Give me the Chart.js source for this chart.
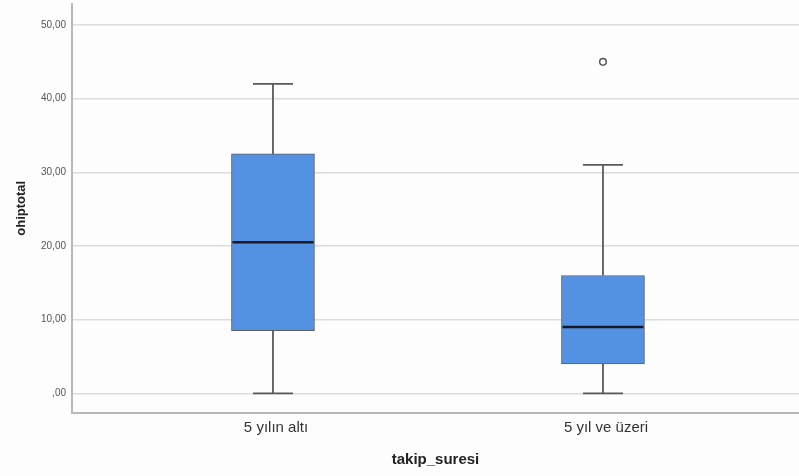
<!DOCTYPE html>
<html>
<head>
<meta charset="utf-8">
<script src="https://cdn.jsdelivr.net/npm/chart.js@4/dist/chart.umd.min.js"></script>
<style>
  html, body { margin: 0; padding: 0; background: #fdfdfd; }
  #wrap { width: 799px; height: 476px; }
</style>
</head>
<body>
<div id="wrap"><canvas id="c" width="799" height="476"></canvas></div>
<script>
// ---- data ----
const categories = ['5 yılın altı', '5 yıl ve üzeri'];
const minValues = [0, 0];
const q1Values = [8.5, 4];
const medianValues = [20.5, 9];
const q3Values = [32.5, 16];
const maxValues = [42, 31];
const outlierValues = [[], [45]];
const yTickValues = [0, 10, 20, 30, 40, 50];
const yTickLabels = [',00', '10,00', '20,00', '30,00', '40,00', '50,00'];
const xTitle = 'takip_suresi';
const yTitle = 'ohiptotal';

// ---- style ----
const BOX_WIDTH = 83;
const CAP_WIDTH = 40;
const BOX_FILL = 'rgb(83,146,227)';
const LINE_COLOR = '#5a5a5a';
const MEDIAN_COLOR = '#151a24';

const boxData = categories.map((c, i) => ({ x: i + 1, y: [q1Values[i], q3Values[i]] }));
const outlierData = [];
outlierValues.forEach((arr, i) => arr.forEach(v => outlierData.push({ x: i + 1, y: v })));

const whiskerPlugin = {
  id: 'whiskers',
  beforeDatasetsDraw(chart) {
    const { ctx, scales: { x, y } } = chart;
    ctx.save();
    ctx.strokeStyle = LINE_COLOR;
    ctx.lineWidth = 1.8;
    categories.forEach((c, i) => {
      const px = x.getPixelForValue(i + 1);
      const pMin = y.getPixelForValue(minValues[i]);
      const pQ1 = y.getPixelForValue(q1Values[i]);
      const pQ3 = y.getPixelForValue(q3Values[i]);
      const pMax = y.getPixelForValue(maxValues[i]);
      ctx.beginPath();
      ctx.moveTo(px, pMin); ctx.lineTo(px, pQ1);
      ctx.moveTo(px, pQ3); ctx.lineTo(px, pMax);
      ctx.moveTo(px - CAP_WIDTH / 2, pMin); ctx.lineTo(px + CAP_WIDTH / 2, pMin);
      ctx.moveTo(px - CAP_WIDTH / 2, pMax); ctx.lineTo(px + CAP_WIDTH / 2, pMax);
      ctx.stroke();
    });
    ctx.restore();
  },
  afterDatasetsDraw(chart) {
    const { ctx, scales: { x, y } } = chart;
    ctx.save();
    ctx.strokeStyle = MEDIAN_COLOR;
    ctx.lineWidth = 2.6;
    categories.forEach((c, i) => {
      const px = x.getPixelForValue(i + 1);
      const pm = y.getPixelForValue(medianValues[i]);
      ctx.beginPath();
      ctx.moveTo(px - BOX_WIDTH / 2 + 1, pm);
      ctx.lineTo(px + BOX_WIDTH / 2 - 1, pm);
      ctx.stroke();
    });
    ctx.restore();
  }
};

new Chart(document.getElementById('c'), {
  type: 'bar',
  data: {
    datasets: [
      {
        type: 'bar',
        data: boxData,
        backgroundColor: BOX_FILL,
        borderColor: '#5c5c5c',
        borderWidth: 1,
        borderSkipped: false,
        barThickness: BOX_WIDTH
      },
      {
        type: 'scatter',
        data: outlierData,
        pointRadius: 3.3,
        pointBackgroundColor: '#ffffff',
        pointBorderColor: '#555555',
        pointBorderWidth: 1.5
      }
    ]
  },
  options: {
    responsive: false,
    animation: false,
    events: [],
    layout: { autoPadding: false, padding: { top: 4, right: 0, left: 0, bottom: 0 } },
    plugins: { legend: { display: false }, tooltip: { enabled: false } },
    scales: {
      x: {
        type: 'linear',
        offset: false,
        min: 0.391,
        max: 2.594,
        afterBuildTicks(scale) { scale.ticks = categories.map((c, i) => ({ value: i + 1 })); },
        afterFit(scale) { scale.height = 63.5; scale.paddingLeft = 0; scale.paddingRight = 0; },
        grid: { display: false, drawTicks: false },
        border: { display: true, color: '#b8b8b8', width: 2 },
        ticks: {
          callback: (v) => categories[Math.round(v) - 1],
          font: { family: 'Liberation Sans', size: 15 },
          color: '#333',
          padding: 6,
          labelOffset: 3,
          maxRotation: 0,
          autoSkip: false
        },
        title: {
          display: true,
          text: xTitle,
          font: { family: 'Liberation Sans', size: 15, weight: 'bold' },
          color: '#222',
          padding: { top: 0, bottom: 7 }
        }
      },
      y: {
        min: -2.6,
        max: 52.85,
        afterBuildTicks(scale) { scale.ticks = yTickValues.map(v => ({ value: v })); },
        afterFit(scale) { scale.width = 72; scale.paddingTop = 0; scale.paddingBottom = 0; },
        grid: { color: '#dcdcdc', lineWidth: 1.5, drawTicks: false },
        border: { display: true, color: '#b8b8b8', width: 2 },
        ticks: {
          callback: (v) => yTickLabels[yTickValues.indexOf(v)],
          font: { family: 'Liberation Sans', size: 10 },
          color: '#555',
          padding: 6
        },
        title: {
          display: true,
          text: yTitle,
          font: { family: 'Liberation Sans', size: 13, weight: 'bold' },
          color: '#222',
          padding: { top: 14, bottom: 0 }
        }
      }
    }
  },
  plugins: [whiskerPlugin]
});
</script>
</body>
</html>
